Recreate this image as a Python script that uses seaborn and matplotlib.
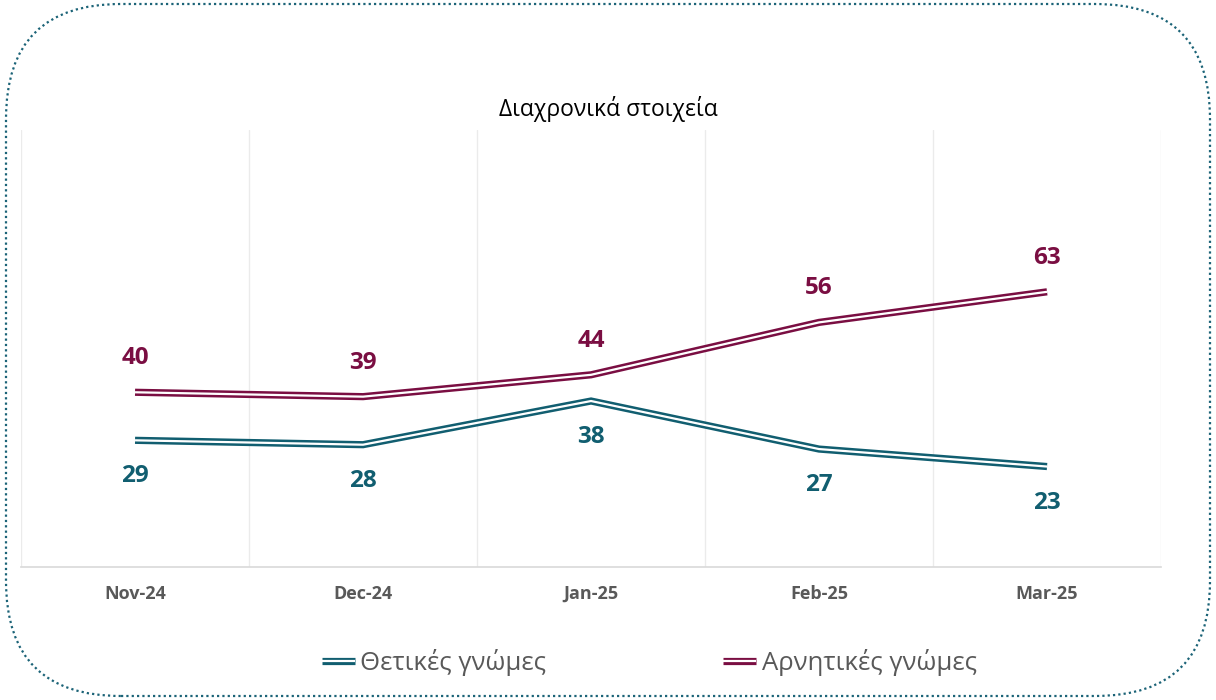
import matplotlib
matplotlib.use("Agg")
import matplotlib.pyplot as plt
import matplotlib.patheffects as pe
from matplotlib.lines import Line2D
from matplotlib.patches import FancyBboxPatch
import seaborn as sns
import pandas as pd

months = ['Nov-24', 'Dec-24', 'Jan-25', 'Feb-25', 'Mar-25']
positive = [29, 28, 38, 27, 23]
negative = [40, 39, 44, 56, 63]
series_names = ['Θετικές γνώμες', 'Αρνητικές γνώμες']
title = 'Διαχρονικά στοιχεία'

teal = '#115E70'
maroon = '#7A0E42'
grey = '#595959'

df = pd.DataFrame({
    'Month': months * 2,
    'x': list(range(len(months))) * 2,
    'Value': positive + negative,
    'Series': [series_names[0]] * len(months) + [series_names[1]] * len(months),
})

sns.set_style("white")
plt.rcParams['font.family'] = ['Open Sans', 'DejaVu Sans']

fig = plt.figure(figsize=(12.16, 7.0), dpi=100)
ax = fig.add_axes([0.0173, 0.19, 0.9375, 0.624])

palette = {series_names[0]: teal, series_names[1]: maroon}
sns.lineplot(data=df, x='x', y='Value', hue='Series', palette=palette,
             ax=ax, legend=False, linewidth=5.2)


def double(c):
    # Excel style compound line: coloured stroke with a white core
    return [pe.Stroke(linewidth=5.2, foreground=c, capstyle='butt', joinstyle='miter'),
            pe.Stroke(linewidth=1.6, foreground='white', capstyle='butt', joinstyle='miter')]


for line in ax.get_lines():
    line.set_path_effects(double(line.get_color()))

ax.set_xlim(-0.5, len(months) - 0.5)
ax.set_ylim(0, 100)
ax.set_xticks(range(len(months)))
ax.set_xticklabels(months, fontsize=13, fontweight='bold', color=grey)
ax.set_xticks([i - 0.5 for i in range(len(months) + 1)], minor=True)
ax.tick_params(axis='x', which='both', length=0, pad=13)
ax.set_yticks([])
ax.set_xlabel('')
ax.set_ylabel('')
ax.grid(axis='x', which='minor', color='#EBEBEB', linewidth=1)
ax.grid(axis='x', which='major', visible=False)
for s in ['top', 'left', 'right']:
    ax.spines[s].set_visible(False)
ax.spines['bottom'].set_color('#D9D9D9')
ax.spines['bottom'].set_linewidth(1.2)

for i, v in enumerate(negative):
    ax.annotate(str(v), (i, v), xytext=(0, 24.5), textcoords='offset points',
                ha='center', va='center', fontsize=17.5, fontweight='bold', color=maroon)
for i, v in enumerate(positive):
    ax.annotate(str(v), (i, v), xytext=(0, -26), textcoords='offset points',
                ha='center', va='center', fontsize=17.5, fontweight='bold', color=teal)

fig.text(0.5, 0.845, title, ha='center', va='center', fontsize=16.5, color='black')

handles = [Line2D([0], [0], color=c, linewidth=5.2, path_effects=double(c))
           for c in [teal, maroon]]
leg = fig.legend(handles, series_names, loc='center', bbox_to_anchor=(0.534, 0.054),
                 ncol=2, frameon=False, fontsize=18.5, handlelength=1.28,
                 handletextpad=0.2, columnspacing=6.9)
for t in leg.get_texts():
    t.set_color(grey)

border = FancyBboxPatch((0.06, 0.04), 12.04, 6.92,
                        boxstyle='round,pad=0,rounding_size=1.15',
                        transform=fig.dpi_scale_trans, fill=False,
                        edgecolor='#1B6377', linewidth=1.6,
                        linestyle=(0, (1, 1.4)), clip_on=False)
fig.patches.append(border)

fig.savefig('out.png', dpi=100, facecolor='white')
